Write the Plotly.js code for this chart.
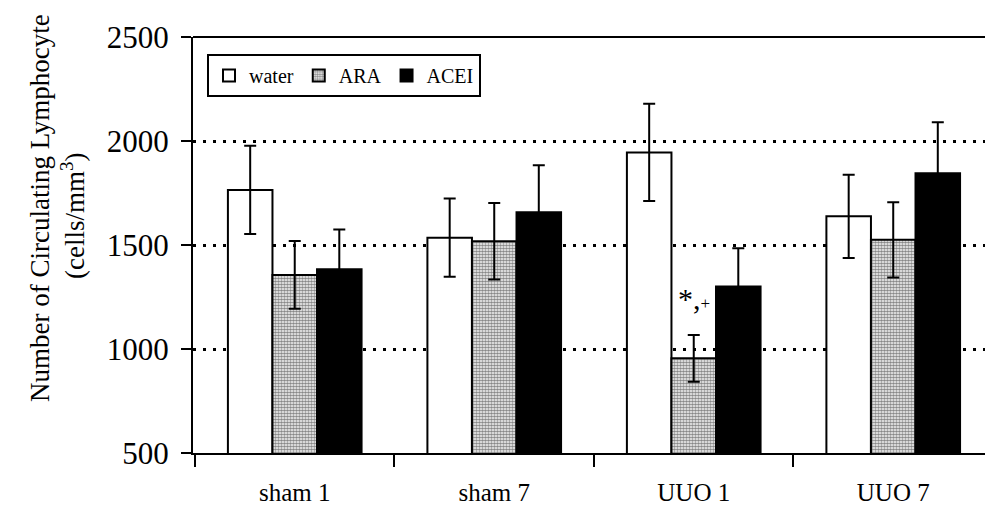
<!DOCTYPE html>
<html>
<head>
<meta charset="utf-8">
<script src="https://cdn.plot.ly/plotly-3.0.1.min.js"></script>
<style>html,body{margin:0;padding:0;background:#fff;}#chart{width:985px;height:511px;}</style>
</head>
<body>
<div id="chart"></div>
<script>
var categories = ["sham 1", "sham 7", "UUO 1", "UUO 7"];
var waterValues = [1765, 1535, 1945, 1638];
var waterErrors = [212, 188, 234, 200];
var araValues = [1356, 1518, 955, 1525];
var araErrors = [163, 184, 112, 181];
var aceiValues = [1383, 1657, 1300, 1845];
var aceiErrors = [192, 226, 184, 245];
var seriesNames = ["water", "ARA", "ACEI"];
var yTicks = [500, 1000, 1500, 2000, 2500];

var serif = "'Liberation Serif', serif";

function errBar(arr) {
  return {type: "data", array: arr, visible: true, color: "#000", thickness: 2, width: 6};
}

var traces = [
  {
    type: "bar", name: seriesNames[0], x: categories, y: waterValues,
    error_y: errBar(waterErrors),
    marker: {color: "#ffffff", line: {color: "#000", width: 2}}
  },
  {
    type: "bar", name: seriesNames[1], x: categories, y: araValues,
    error_y: errBar(araErrors),
    marker: {color: "#ffffff", line: {color: "#000", width: 2},
      pattern: {shape: ".", fillmode: "overlay", bgcolor: "#ffffff", fgcolor: "#111", size: 3, solidity: 0.65}}
  },
  {
    type: "bar", name: seriesNames[2], x: categories, y: aceiValues,
    error_y: errBar(aceiErrors),
    marker: {color: "#000000", line: {color: "#000", width: 2}}
  }
];

var L = 193, W = 985, H = 511, T = 37, B = 58;
var pw = W - L;
function px2paper(px) { return (px - L) / pw; }

var layout = {
  width: W, height: H,
  margin: {l: L, r: 0, t: T, b: B, pad: 0},
  paper_bgcolor: "#fff", plot_bgcolor: "#fff",
  font: {family: serif, color: "#000"},
  barmode: "group", bargap: 0.33, bargroupgap: 0,
  showlegend: true,
  legend: {
    orientation: "h", x: px2paper(207), y: (453 - 54) / 416, xanchor: "left", yanchor: "top",
    bordercolor: "#000", borderwidth: 2, bgcolor: "#fff",
    font: {family: serif, size: 20, color: "#000"},
    traceorder: "normal", itemwidth: 30
  },
  xaxis: {
    type: "category", range: [-0.51, 3.46],
    showline: true, linecolor: "#000", linewidth: 2,
    ticks: "outside", tickson: "boundaries", ticklen: 12, tickwidth: 2, tickcolor: "#000",
    showgrid: false, zeroline: false,
    tickfont: {family: serif, size: 25, color: "#000"},
    ticklabelstandoff: 16
  },
  yaxis: {
    range: [500, 2500], tickvals: yTicks, ticktext: yTicks.map(String),
    showline: true, linecolor: "#000", linewidth: 2,
    ticks: "outside", ticklen: 10, tickwidth: 2, tickcolor: "#000",
    showgrid: true, gridcolor: "#000", gridwidth: 3, griddash: "3px,7px",
    zeroline: false,
    tickfont: {family: serif, size: 31, color: "#000"},
    ticklabelstandoff: 6
  },
  shapes: [
    {type: "line", xref: "paper", yref: "paper", x0: 0, x1: 1, y0: 1, y1: 1, line: {color: "#000", width: 2}}
  ],
  annotations: [
    {xref: "paper", yref: "paper", x: px2paper(40), y: (453 - 208) / 416, xanchor: "center", yanchor: "middle",
     text: "Number of Circulating Lymphocyte", textangle: -90, showarrow: false,
     font: {family: serif, size: 27, color: "#000"}},
    {xref: "paper", yref: "paper", x: px2paper(73), y: (453 - 216) / 416, xanchor: "center", yanchor: "middle",
     text: "(cells/mm<sup>3</sup>)", textangle: -90, showarrow: false,
     font: {family: serif, size: 27, color: "#000"}},
    {xref: "x", yref: "y", x: categories[2], y: 1245, xanchor: "center", yanchor: "middle",
     text: "*,<span style='font-size:17px'>+</span>", showarrow: false,
     font: {family: serif, size: 30, color: "#000"}}
  ]
};

Plotly.newPlot("chart", traces, layout, {staticPlot: true, displayModeBar: false});
</script>
</body>
</html>
